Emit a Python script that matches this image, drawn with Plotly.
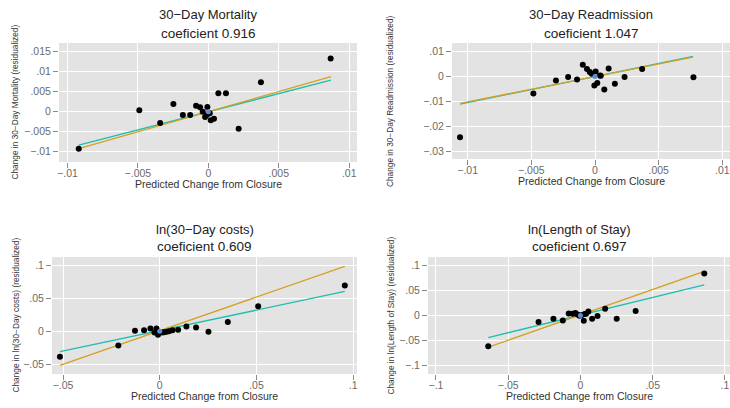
import plotly.graph_objects as go

# ---------------- data ----------------
titles = ["30−Day Mortality", "30−Day Readmission", "ln(30−Day costs)", "ln(Length of Stay)"]
coefs = ["0.916", "1.047", "0.609", "0.697"]
ytitles = ["Change in 30−Day Mortality (residualized)",
           "Change in 30−Day Readmission (residualized)",
           "Change in ln(30−Day costs) (residualized)",
           "Change in ln(Length of Stay) (residualized)"]
xtitle = "Predicted Change from Closure"

mort_x = [-0.0092, -0.0049, -0.00342, -0.00248, -0.00181, -0.00129, -0.00087, -0.00059, -0.0004,
          -0.00023, -0.00011, -0.00007, 0.0001, 0.00017, 0.0004, 0.00071, 0.00125, 0.00215, 0.00373, 0.00868]
mort_y = [-0.0093, 0.00035, -0.00283, 0.00193, -0.00083, -0.00083, 0.0015, 0.0011, 0.0,
          -0.00133, -0.00083, 0.00118, -0.0004, -0.00215, -0.00175, 0.0046, 0.0046, -0.00425, 0.0074, 0.0133]
mort_fit_x = [-0.0092, 0.0087]
mort_fit_teal = [-0.0084, 0.0079]
mort_fit_gold = [-0.00925, 0.00875]

read_x = [-0.0106, -0.00484, -0.00307, -0.00211, -0.00141, -0.00096, -0.00063, -0.00041, -0.00026,
          -0.00005, 0.00005, 0.00018, 0.00039, 0.00045, 0.00073, 0.00107, 0.00156, 0.00232, 0.0037, 0.00773]
read_y = [-0.0243, -0.0068, -0.0016, -0.00024, -0.0012, 0.00468, 0.003, 0.00176, 0.00108,
          -0.0036, 0.002, -0.00264, 0.0004, 0.0003, -0.0052, 0.0032, -0.0029, -0.00024, 0.003, -0.0003]
read_fit_x = [-0.0106, 0.0077]
read_fit_teal = [-0.0111, 0.0080]
read_fit_gold = [-0.0108, 0.00773]

cost_x = [-0.0516, -0.0214, -0.0128, -0.0081, -0.0048, -0.0027, -0.0017, -0.0009, 0.0012, 0.0022,
          0.0035, 0.0048, 0.0066, 0.0095, 0.0138, 0.0188, 0.0252, 0.0352, 0.0509, 0.0957]
cost_y = [-0.0385, -0.0218, 0.0009, 0.0015, 0.004, -0.0021, 0.004, -0.0052, -0.0021, -0.0015,
          -0.0006, 0.0, 0.0015, 0.0024, 0.007, 0.0055, -0.0006, 0.0141, 0.038, 0.0694]
cost_fit_x = [-0.0516, 0.0957]
cost_fit_teal = [-0.0309, 0.0603]
cost_fit_gold = [-0.0517, 0.0983]

los_x = [-0.0638, -0.029, -0.0187, -0.0122, -0.0081, -0.0053, -0.0035, -0.002, -0.0007, 0.001,
         0.0023, 0.003, 0.0039, 0.0055, 0.0081, 0.0118, 0.0171, 0.0251, 0.0382, 0.0857]
los_y = [-0.0613, -0.0132, -0.0066, -0.01, 0.004, 0.0034, 0.0048, 0.002, -0.0006, 0.001,
         -0.0106, 0.003, 0.0034, 0.008, -0.0066, -0.0012, 0.0134, -0.0066, 0.0088, 0.084]
los_fit_x = [-0.0638, 0.0857]
los_fit_teal = [-0.044, 0.0613]
los_fit_gold = [-0.0633, 0.088]

small_ticks = [-0.01, -0.005, 0, 0.005, 0.01]
small_labels = ["−.01", "−.005", "0", ".005", ".01"]
mort_yticks = [-0.01, -0.005, 0, 0.005, 0.01, 0.015]
mort_ylabels = ["−.01", "−.005", "0", ".005", ".01", ".015"]
read_yticks = [-0.03, -0.02, -0.01, 0, 0.01]
read_ylabels = ["−.03", "−.02", "−.01", "0", ".01"]
cost_xticks = [-0.05, 0, 0.05, 0.1]
cost_xlabels = ["−.05", "0", ".05", ".1"]
cost_yticks = [-0.05, 0, 0.05, 0.1]
cost_ylabels = ["−.05", "0", ".05", ".1"]
los_ticks = [-0.1, -0.05, 0, 0.05, 0.1]
los_labels = ["−.1", "−.05", "0", ".05", ".1"]

# ---------------- layout helpers ----------------
W, H = 730, 408
FONT = "Liberation Sans, Arial, sans-serif"
TEAL = "#1fbdb0"
GOLD = "#d4a021"
BLUE = "#5b8fd6"

panels = [
    dict(x=mort_x, y=mort_y, fx=mort_fit_x, ft=mort_fit_teal, fg=mort_fit_gold,
         box=(59, 357, 43, 162), xr=[-0.0106, 0.01055], yr=[-0.0126, 0.0172],
         xt=small_ticks, xl=small_labels, yt=mort_yticks, yl=mort_ylabels, ytx=14),
    dict(x=read_x, y=read_y, fx=read_fit_x, ft=read_fit_teal, fg=read_fit_gold,
         box=(452, 730, 43, 159), xr=[-0.01123, 0.0106], yr=[-0.033, 0.01336],
         xt=small_ticks, xl=small_labels, yt=read_yticks, yl=read_ylabels, ytx=390),
    dict(x=cost_x, y=cost_y, fx=cost_fit_x, ft=cost_fit_teal, fg=cost_fit_gold,
         box=(52, 357, 257, 374), xr=[-0.0557, 0.102], yr=[-0.0648, 0.1125],
         xt=cost_xticks, xl=cost_xlabels, yt=cost_yticks, yl=cost_ylabels, ytx=15),
    dict(x=los_x, y=los_y, fx=los_fit_x, ft=los_fit_teal, fg=los_fit_gold,
         box=(428, 730, 257, 374), xr=[-0.1055, 0.1035], yr=[-0.1167, 0.1167],
         xt=los_ticks, xl=los_labels, yt=los_ticks, yl=los_labels, ytx=390),
]

fig = go.Figure()
annotations = []
layout = {}
for i, p in enumerate(panels):
    n = "" if i == 0 else str(i + 1)
    xa, ya = "x" + n, "y" + n
    x0, x1, y0, y1 = p["box"]
    fig.add_trace(go.Scatter(x=p["fx"], y=p["ft"], mode="lines", xaxis=xa, yaxis=ya,
                             line=dict(color=TEAL, width=1.3), showlegend=False))
    fig.add_trace(go.Scatter(x=p["fx"], y=p["fg"], mode="lines", xaxis=xa, yaxis=ya,
                             line=dict(color=GOLD, width=1.3), showlegend=False))
    fig.add_trace(go.Scatter(x=p["x"], y=p["y"], mode="markers", xaxis=xa, yaxis=ya,
                             marker=dict(color="black", size=6), showlegend=False, cliponaxis=False))
    fig.add_trace(go.Scatter(x=[0], y=[0], mode="markers", xaxis=xa, yaxis=ya,
                             marker=dict(color=BLUE, size=5), showlegend=False))
    common = dict(showgrid=True, gridcolor="white", gridwidth=1.3, zeroline=False,
                  ticks="outside", ticklen=5, tickcolor="#8a8a8a", tickwidth=1,
                  tickfont=dict(family=FONT, size=10.5, color="#6a6a6a"),
                  showline=False, fixedrange=True, automargin=False)
    layout["xaxis" + n] = dict(domain=[x0 / W, x1 / W], range=p["xr"], anchor=ya,
                               tickvals=p["xt"], ticktext=p["xl"], ticklabelstandoff=-4, **common)
    layout["yaxis" + n] = dict(domain=[1 - y1 / H, 1 - y0 / H], range=p["yr"], anchor=xa,
                               tickvals=p["yt"], ticktext=p["yl"], **common)
    cx = (x0 + x1) / 2
    annotations.append(dict(x=cx / W, y=1 - (y0 - 28) / H, xref="paper", yref="paper",
                            text=titles[i], showarrow=False, xanchor="center", yanchor="middle",
                            font=dict(family=FONT, size=13, color="#222")))
    annotations.append(dict(x=cx / W, y=1 - (y0 - 10) / H, xref="paper", yref="paper",
                            text="coeficient " + coefs[i], showarrow=False, xanchor="center",
                            yanchor="middle",
                            font=dict(family=FONT, size=13.5, color="#222")))
    annotations.append(dict(x=cx / W, y=1 - (y1 + 22) / H, xref="paper", yref="paper",
                            text=xtitle, showarrow=False, xanchor="center", yanchor="middle",
                            font=dict(family=FONT, size=10.5, color="#333")))
    annotations.append(dict(x=p["ytx"] / W, y=1 - ((y0 + y1) / 2) / H, xref="paper", yref="paper",
                            text=ytitles[i], showarrow=False, xanchor="center", yanchor="middle",
                            textangle=-90, font=dict(family=FONT, size=8.3, color="#333")))

fig.update_layout(width=W, height=H, margin=dict(l=0, r=0, t=0, b=0),
                  paper_bgcolor="white", plot_bgcolor="#e3e3e3",
                  annotations=annotations, **layout)
fig.write_html("out.html", config={"displayModeBar": False},
               post_script="document.body.style.margin='0px';document.body.style.overflow='hidden';")
